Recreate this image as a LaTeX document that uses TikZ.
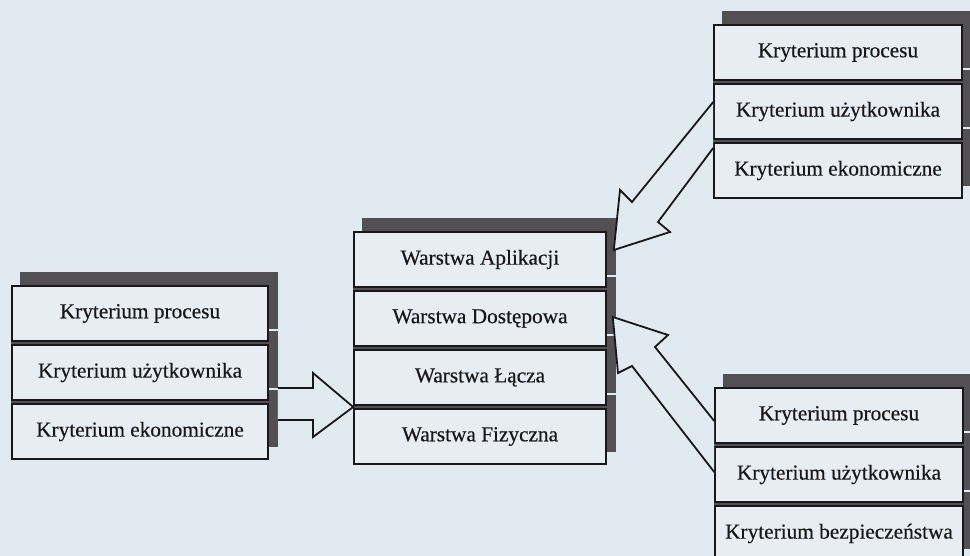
\documentclass[tikz,border=0pt]{standalone}
\usepackage{fontspec}
\setmainfont{Liberation Serif}
\newfontfamily\critfont[FakeBold=0.4]{Liberation Serif}
\usetikzlibrary{calc}
\definecolor{paper}{RGB}{226,234,241}
\definecolor{boxfill}{RGB}{231,237,243}
\definecolor{shade}{RGB}{82,80,84}
\definecolor{ink}{RGB}{24,24,26}
\pgfdeclarelayer{bg}
\pgfsetlayers{bg,main}

\begin{document}
\begin{tikzpicture}[x=1pt,y=-1pt,
  crit/.style={draw=ink, line width=1.6pt, fill=boxfill, text=ink,
    font=\critfont\fontsize{21.3}{24}\selectfont, minimum height=55pt, inner sep=0pt},
  leftcol/.style={crit, minimum width=256pt},
  midcol/.style={crit, minimum width=252pt},
  rightcol/.style={crit, minimum width=248pt},
  blockarrow/.style={draw=ink, fill=paper, line width=1.8pt, line join=miter},
  shadowbox/.style={fill=shade}
]
\useasboundingbox (0,0) rectangle (970,556);
\clip (0,0) rectangle (970,556);

% criteria feeding the layer stack from the left
\node[leftcol] (lp) at (140,313.5) {Kryterium procesu};
\node[leftcol] (lu) at (140,372.5) {Kryterium użytkownika};
\node[leftcol] (le) at (140,431.5) {Kryterium ekonomiczne};

% layer stack
\node[midcol] (wa) at (480,259.5) {Warstwa Aplikacji};
\node[midcol] (wd) at (480,318.5) {Warstwa Dostępowa};
\node[midcol] (wl) at (480,377.5) {Warstwa Łącza};
\node[midcol] (wf) at (480,436.5) {Warstwa Fizyczna};

% criteria, upper right
\node[rightcol] (tp) at (838,52.5) {Kryterium procesu};
\node[rightcol] (tu) at (838,111.5) {Kryterium użytkownika};
\node[rightcol] (te) at (838,170.5) {Kryterium ekonomiczne};

% criteria, lower right
\node[rightcol] (bp) at (839,415.5) {Kryterium procesu};
\node[rightcol] (bu) at (839,474.5) {Kryterium użytkownika};
\node[rightcol] (bb) at (839,533.5) {Kryterium bezpieczeństwa};

% paper, drop shadows and dark joints between stacked boxes
\begin{pgfonlayer}{bg}
  \fill[paper] (0,0) rectangle (970,556);
  \foreach \n in {lp,lu,le,wa,wd,wl,wf,tp,tu,te,bp,bu,bb}{
    \fill[shadowbox] ($(\n.north west)+(9,-13)$) rectangle ($(\n.south east)+(9,-13)$);
  }
  \fill[shadowbox] (lp.north west) rectangle (le.south east);
  \fill[shadowbox] (wa.north west) rectangle (wf.south east);
  \fill[shadowbox] (tp.north west) rectangle (te.south east);
  \fill[shadowbox] (bp.north west) rectangle (bb.south east);
\end{pgfonlayer}

% block arrow: left criteria -> layer stack
\coordinate (ltip) at ($(wl.south west)!0.5!(wf.north west)$);
\filldraw[blockarrow] ($(lu.east)+(9,15.5)$) -- (313,388) -- (313,373)
  -- (ltip) -- (313,437) -- (313,420) -- ($(le.east)+(9,-11.5)$);

% block arrow: upper right criteria -> Warstwa Aplikacji
\coordinate (ttip) at ($(wa.east)+(7,-9.5)$);
\filldraw[blockarrow] ($(tu.west)+(0,-9.5)$) -- (632,202) -- (620,190)
  -- (ttip) -- (670,232) -- (658,222) -- ($(te.west)+(0,-22.5)$);

% block arrow: lower right criteria -> Warstwa Dostępowa
\coordinate (btip) at ($(wd.east)+(6,-1.5)$);
\filldraw[blockarrow] ($(bp.west)+(0,5.5)$) -- (655,347) -- (668,335)
  -- (btip) -- (618,373) -- (632,366) -- ($(bu.west)+(0,-2.5)$);
\end{tikzpicture}
\end{document}
